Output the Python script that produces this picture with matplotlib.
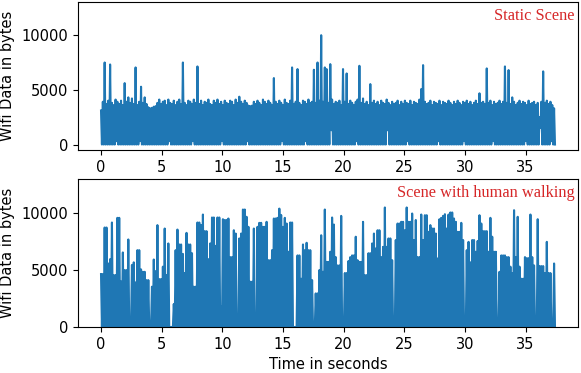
import numpy as np
import matplotlib
matplotlib.use("Agg")
import matplotlib.pyplot as plt

# ---------------- data ----------------
sample_period = 0.075  # seconds between consecutive samples

static_peaks = [
    3100, 3900, 7480, 3700, 4000, 7300, 3800, 3600, 4100, 3900,
    3700, 4000, 3600, 5600, 3900, 4300, 3800, 4200, 3700, 7030,
    3600, 3900, 5270, 3800, 4300, 3700, 3400, 3300, 3350, 3450,
    3500, 3800, 4100, 3700, 3900, 4000, 3600, 4100, 3800, 3700,
    4000, 3600, 3900, 4100, 3700, 7480, 3800, 3600, 4000, 3900,
    3700, 4100, 3800, 7120, 3700, 4000, 3600, 3900, 3800, 4100,
    3700, 3600, 4000, 3800, 4100, 3700, 3900, 3600, 4000, 3800,
    3700, 4000, 3900, 3600, 4100, 3800, 4360, 3900, 3700, 4000,
    3800, 3550, 3500, 3550, 3900, 3700, 4000, 3800, 3600, 4100,
    3900, 3700, 4000, 3800, 3600, 6060, 3900, 3700, 4000, 3800,
    3600, 4100, 3800, 3700, 4000, 7030, 3700, 3900, 6880, 3800,
    3600, 4000, 3900, 3700, 4100, 3800, 3900, 6820, 3800, 7480,
    4000, 9970, 3900, 7030, 6880, 3800, 7330, 4100, 3700, 3900,
    3800, 4000, 3600, 6880, 3900, 6480, 3700, 4000, 3800, 3600,
    3900, 4100, 7180, 3800, 4200, 3700, 3900, 3600, 5510, 3800,
    4000, 3700, 3900, 3600, 4000, 3800, 3700, 4100, 3800, 3600,
    3900, 3700, 3800, 4000, 3600, 3900, 3700, 4000, 3800, 3700,
    4000, 3600, 3900, 3800, 3700, 4100, 5060, 7240, 3900, 3700,
    3800, 4000, 3600, 3900, 3800, 3700, 4000, 3600, 3900, 3800,
    3700, 4000, 3800, 3600, 3900, 3700, 4000, 3800, 3600, 3900,
    3800, 4000, 3700, 3900, 3600, 3800, 4000, 3700, 4670, 3800,
    3900, 3700, 6940, 3800, 4000, 3600, 3900, 3700, 3800, 4000,
    3700, 3900, 7120, 3800, 6790, 3700, 4300, 3900, 3600, 3800,
    4000, 3700, 3900, 3800, 3600, 4000, 3700, 3800, 3900, 3600,
    3800, 2500, 3900, 6670, 3800, 4000, 3700, 3900, 3600, 3300,
]

static_troughs = [
    0, 0, 0, 0, 0, 0, 0, 0, 300, 0,
    0, 0, 0, 0, 0, 0, 0, 0, 0, 0,
    0, 300, 0, 0, 0, 0, 0, 0, 0, 0,
    0, 0, 0, 0, 0, 0, 0, 300, 0, 0,
    0, 0, 0, 0, 0, 0, 0, 0, 0, 0,
    300, 0, 0, 0, 0, 0, 0, 0, 0, 0,
    0, 0, 0, 0, 0, 0, 300, 0, 0, 0,
    0, 0, 0, 0, 0, 0, 0, 0, 0, 0,
    300, 0, 0, 0, 0, 0, 0, 0, 0, 0,
    0, 0, 0, 0, 0, 0, 0, 0, 0, 300,
    0, 0, 0, 0, 0, 0, 0, 0, 0, 0,
    0, 0, 300, 0, 0, 0, 0, 0, 0, 0,
    0, 0, 0, 0, 0, 0, 1300, 0, 0, 0,
    0, 0, 0, 0, 0, 0, 0, 0, 0, 0,
    300, 0, 0, 0, 0, 0, 0, 0, 0, 0,
    0, 0, 0, 0, 0, 0, 0, 1300, 0, 0,
    0, 0, 0, 0, 0, 0, 0, 0, 300, 0,
    0, 0, 0, 0, 0, 0, 0, 0, 0, 0,
    0, 0, 0, 0, 0, 300, 0, 0, 0, 0,
    0, 0, 0, 0, 0, 0, 0, 0, 0, 300,
    0, 0, 0, 0, 0, 0, 0, 0, 0, 0,
    0, 0, 0, 0, 0, 300, 0, 0, 0, 0,
    0, 0, 0, 0, 0, 0, 0, 0, 0, 0,
    0, 0, 0, 300, 0, 0, 0, 0, 0, 0,
    0, 1500, 0, 0, 0, 0, 0, 300, 0, 0,
]

walking_peaks = [
    4650, 4650, 8740, 8740, 5580, 5960, 9180, 4560, 4560, 9590,
    9590, 4000, 6550, 5000, 5000, 7690, 0, 5450, 5680, 3920,
    6750, 6750, 5060, 4850, 4850, 4120, 4120, 0, 3540, 5930,
    4910, 8950, 4210, 4210, 5300, 8650, 4560, 7340, 0, 0,
    2020, 6750, 8560, 7250, 7250, 6420, 4740, 8270, 7250, 7250,
    6480, 3540, 3540, 9180, 9180, 8950, 9880, 8420, 8420, 5960,
    7340, 9620, 9620, 7130, 9620, 9620, 1790, 9470, 9400, 9400,
    9530, 6140, 6140, 8500, 8210, 0, 7780, 8210, 10320, 10320,
    9680, 8800, 3980, 3980, 8650, 0, 8800, 9150, 9150, 8800,
    8800, 9240, 5870, 5870, 6750, 9530, 9530, 9590, 10400, 9840,
    8800, 9590, 9090, 6610, 9180, 9180, 0, 0, 6290, 6290,
    4240, 7250, 6750, 7400, 6750, 6750, 4120, 0, 2950, 2950,
    5000, 8060, 4850, 10320, 5720, 5720, 6610, 9620, 9000, 6140,
    5410, 5410, 9760, 0, 4740, 4740, 5800, 6140, 6290, 6290,
    7930, 5870, 5720, 5720, 9240, 4560, 4560, 6480, 6480, 7340,
    8210, 6900, 8500, 8500, 6140, 7040, 10500, 7040, 7780, 7780,
    5870, 0, 7640, 9090, 9090, 9240, 9240, 8500, 10500, 9240,
    9240, 9970, 7640, 9400, 6140, 6140, 9880, 7640, 9820, 9820,
    8360, 8950, 8650, 8650, 8210, 6020, 9470, 9590, 9760, 9910,
    8650, 9880, 10060, 10060, 9530, 9240, 8360, 8360, 9150, 7640,
    0, 6750, 7480, 5680, 7640, 7640, 6610, 7560, 9820, 9090,
    8420, 8420, 8420, 6610, 9590, 7930, 6610, 6610, 0, 4850,
    6290, 6290, 6290, 6140, 6140, 5300, 4740, 10260, 6140, 9680,
    5300, 4240, 4240, 6140, 6050, 6050, 9880, 6140, 5410, 0,
    9470, 5350, 5350, 5350, 4740, 7480, 4740, 4740, 0, 5580,
]

walking_troughs = [0] * len(walking_peaks)

x_ticks = [0, 5, 10, 15, 20, 25, 30, 35]
y_ticks = [0, 5000, 10000]
ylabel_text = "Wifi Data in bytes"
xlabel_text = "Time in seconds"
titles = ["Static Scene", "Scene with human walking"]


def interleave(peaks, troughs):
    out = []
    for p, q in zip(peaks, troughs):
        out.append(p)
        out.append(q)
    return np.array(out, dtype=float)


static_signal = interleave(static_peaks, static_troughs)
walking_signal = interleave(walking_peaks, walking_troughs)
t_static = np.arange(len(static_signal)) * sample_period
t_walking = np.arange(len(walking_signal)) * sample_period

# ---------------- figure ----------------
plt.rcParams["font.family"] = ["DejaVu Sans"]
plt.rcParams["font.size"] = 10.5

fig = plt.figure(figsize=(5.81, 3.73), dpi=100)
ax1 = fig.add_axes([0.1348, 0.5979, 0.8595, 0.3968])
ax2 = fig.add_axes([0.1348, 0.1233, 0.8595, 0.3968])

ax1.plot(t_static, static_signal, color="#1f77b4", linewidth=1.5)
ax2.plot(t_walking, walking_signal, color="#1f77b4", linewidth=1.5)

ax1.set_ylim(-500, 13000)
ax2.set_ylim(0, 13000)

for ax, title in zip((ax1, ax2), titles):
    ax.set_xticks(x_ticks)
    ax.set_yticks(y_ticks)
    ax.set_ylabel(ylabel_text, labelpad=5)
    ax.text(0.994, 0.96, title, transform=ax.transAxes, ha="right", va="top",
            color="#d62728", fontsize=11.8, family=["Liberation Serif", "DejaVu Serif"])

ax2.set_xlabel(xlabel_text)

fig.savefig("out.png", dpi=100)
